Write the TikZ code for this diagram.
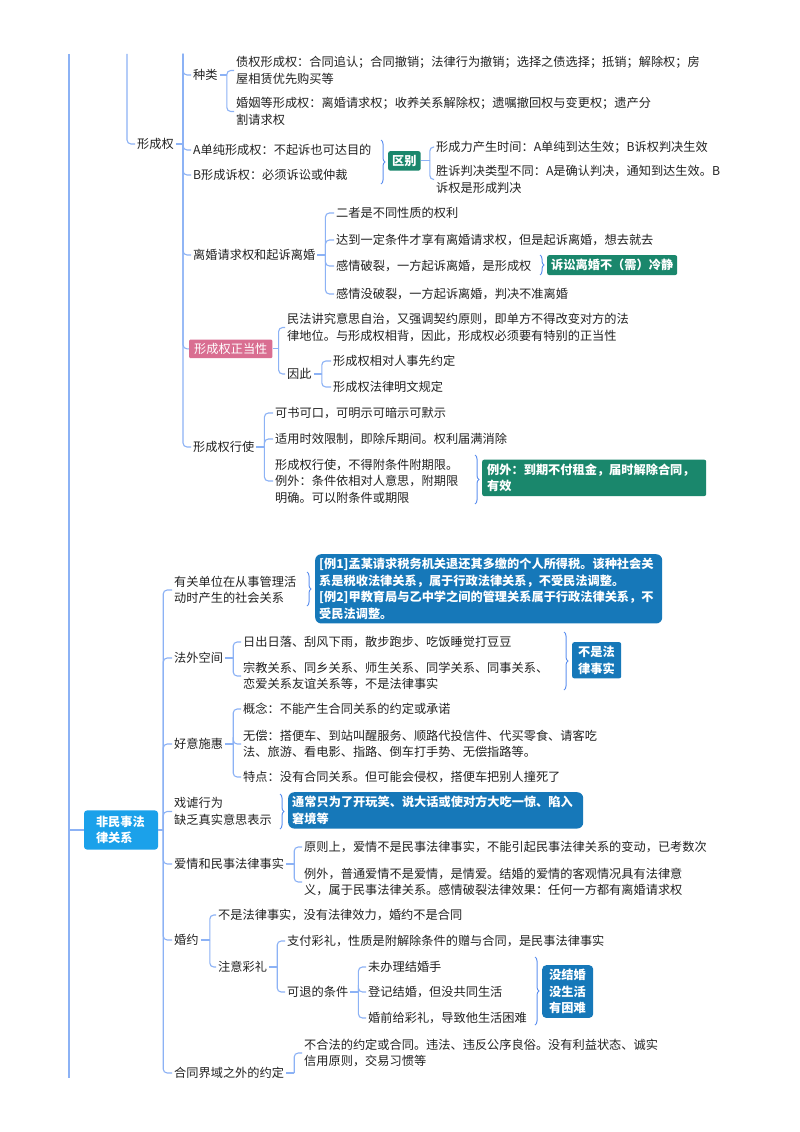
\documentclass[tikz,border=0pt]{standalone}
\usepackage{fontspec}
\setmainfont{Noto Sans CJK SC}
\usetikzlibrary{decorations.pathreplacing}
\definecolor{linkc}{RGB}{140,178,245}
\definecolor{bracec}{RGB}{95,145,240}
\definecolor{tealc}{RGB}{26,135,108}
\definecolor{deepblue}{RGB}{22,120,185}
\definecolor{skyblue}{RGB}{27,161,234}
\definecolor{rosec}{RGB}{217,110,145}
\definecolor{inkc}{RGB}{34,34,34}
\begin{document}
\begin{tikzpicture}[x=1pt,y=-1pt,
  every node/.style={font=\fontsize{12.2}{16.5}\selectfont,text=inkc},
  txt/.style={anchor=west,inner sep=2pt,align=left},
  link/.style={draw=linkc,line width=1.1pt,rounded corners=4pt},
  brc/.style={draw=bracec,line width=1pt,decorate,decoration={brace,amplitude=4pt}},
  tagbox/.style={anchor=north west,text=white,font=\fontsize{12.2}{16.5}\selectfont\bfseries,
    align=left,inner ysep=4pt,inner xsep=4pt,rounded corners=2pt},
  notebox/.style={tagbox,fill=deepblue,rounded corners=6pt}]
  \useasboundingbox (0,0) rectangle (800,1132);
  \fill[white] (0,0) rectangle (800,1132);

  % ---- upper part: 形成权 ----
  \coordinate (t1) at (69,54);
  \coordinate (t2) at (127,54);
  \coordinate (t3) at (183,54);
  \coordinate (b1) at (69,1078);
  \node[txt] (xcq) at (135,144) {形成权};
  \node[txt] (zl) at (191,75) {种类};
  \node[txt] (zq) at (234,70.5) {债权形成权：合同追认；合同撤销；法律行为撤销；选择之债选择；抵销；解除权；房\\屋相赁优先购买等};
  \node[txt] (hy) at (234,111.5) {婚姻等形成权：离婚请求权；收养关系解除权；遗嘱撤回权与变更权；遗产分\\割请求权};
  \node[txt] (adc) at (191,150) {A单纯形成权：不起诉也可达目的};
  \node[txt] (bxs) at (191,175) {B形成诉权：必须诉讼或仲裁};
  \node[tagbox,fill=tealc] (qb) at (388,151) {区别};
  \node[txt] (sj) at (434,147) {形成力产生时间：A单纯到达生效；B诉权判决生效};
  \node[txt] (sl) at (434,179.5) {胜诉判决类型不同：A是确认判决，通知到达生效。B\\诉权是形成判决};

  \node[txt] (lh) at (191,255) {离婚请求权和起诉离婚};
  \node[txt] (ez) at (334,213) {二者是不同性质的权利};
  \node[txt] (dd) at (334,240) {达到一定条件才享有离婚请求权，但是起诉离婚，想去就去};
  \node[txt] (gq) at (334,266) {感情破裂，一方起诉离婚，是形成权};
  \node[txt] (gm) at (334,294) {感情没破裂，一方起诉离婚，判决不准离婚};
  \node[tagbox,fill=tealc] (lj) at (547,255) {诉讼离婚不（需）冷静};

  \node[tagbox,fill=rosec,font=\fontsize{12.2}{16.5}\selectfont,inner ysep=3.5pt,inner xsep=5pt,rounded corners=1pt] (zd) at (189,339.5) {形成权正当性};
  \node[txt] (mf) at (285,327.5) {民法讲究意思自治，又强调契约原则，即单方不得改变对方的法\\律地位。与形成权相背，因此，形成权必须要有特别的正当性};
  \node[txt] (yc) at (285,374) {因此};
  \node[txt] (yd) at (331,361) {形成权相对人事先约定};
  \node[txt] (fl) at (331,387) {形成权法律明文规定};

  \node[txt] (xs) at (191,447) {形成权行使};
  \node[txt] (ks) at (273,413) {可书可口，可明示可暗示可默示};
  \node[txt] (sy) at (273,439) {适用时效限制，即除斥期间。权利届满消除};
  \node[txt] (bd) at (273,481) {形成权行使，不得附条件附期限。\\例外：条件依相对人意思，附期限\\明确。可以附条件或期限};
  \node[tagbox,fill=tealc,text width=214pt,inner xsep=5pt] (lw) at (482,459.5) {例外：到期不付租金，届时解除合同，\\有效};

  \draw[link] (t1) -- (b1);
  \draw[link] (t2) |- (xcq.west);
  \draw[link] (xcq.east) -- (xcq.east -| t3);
  \foreach \c in {zl,adc,bxs,lh,zd,xs} \draw[link] (t3) |- (\c.west);
  \draw[link] (zl.east) -- ++(7,0) coordinate (zlj);
  \foreach \c in {zq,hy} \draw[link] (zlj) |- (\c.west);
  \draw[link] (qb.east) -- ++(9,0) coordinate (qbj);
  \foreach \c in {sj,sl} \draw[link] (qbj) |- (\c.west);
  \draw[link] (lh.east) -- ++(8,0) coordinate (lhj);
  \foreach \c in {ez,dd,gq,gm} \draw[link] (lhj) |- (\c.west);
  \draw[link] (zd.east) -- ++(6,0) coordinate (zdj);
  \foreach \c in {mf,yc} \draw[link] (zdj) |- (\c.west);
  \draw[link] (yc.east) -- ++(8,0) coordinate (ycj);
  \foreach \c in {yd,fl} \draw[link] (ycj) |- (\c.west);
  \draw[link] (xs.east) -- ++(8,0) coordinate (xsj);
  \foreach \c in {ks,sy,bd} \draw[link] (xsj) |- (\c.west);
  % braces
  \draw[brc] (381,140) -- (381,184);
  \draw[brc] (540,255) -- (540,275);
  \draw[brc] (475,455) -- (475,504);

  % ---- lower part: 非民事法律关系 ----
  \node[tagbox,fill=skyblue,anchor=center,text width=50pt,inner xsep=12pt,inner ysep=5.5pt,rounded corners=3pt] (fm) at (121,830) {非民事法\\律关系};
  \draw[link] (fm.west -| t1) -- (fm.west);

  \node[txt] (dw) at (172,590) {有关单位在从事管理活\\动时产生的社会关系};
  \node[notebox,text width=339pt] (ex) at (315,554) {[例1]孟某请求税务机关退还其多缴的个人所得税。该种社会关\\系是税收法律关系，属于行政法律关系，不受民法调整。\\{}[例2]甲教育局与乙中学之间的管理关系属于行政法律关系，不\\受民法调整。};

  \node[txt] (fw) at (172,658) {法外空间};
  \node[txt] (rc) at (241,642) {日出日落、刮风下雨，散步跑步、吃饭睡觉打豆豆};
  \node[txt] (zj) at (241,676) {宗教关系、同乡关系、师生关系、同学关系、同事关系、\\恋爱关系友谊关系等，不是法律事实};
  \node[tagbox,fill=deepblue,text width=37pt,inner xsep=6pt] (bs) at (572,642) {不是法\\律事实};

  \node[txt] (hs) at (172,744) {好意施惠};
  \node[txt] (gn) at (241,709) {概念：不能产生合同关系的约定或承诺};
  \node[txt] (wc) at (241,744) {无偿：搭便车、到站叫醒服务、顺路代投信件、代买零食、请客吃\\法、旅游、看电影、指路、倒车打手势、无偿指路等。};
  \node[txt] (td) at (241,777) {特点：没有合同关系。但可能会侵权，搭便车把别人撞死了};

  \node[txt] (xx) at (172,811.5) {戏谑行为\\缺乏真实意思表示};
  \node[notebox,text width=287pt] (tc) at (288,792) {通常只为了开玩笑、说大话或使对方大吃一惊、陷入\\窘境等};

  \node[txt] (aq) at (172,864) {爱情和民事法律事实};
  \node[txt] (yz) at (302,847) {原则上，爱情不是民事法律事实，不能引起民事法律关系的变动，已考数次};
  \node[txt] (lw2) at (302,882) {例外，普通爱情不是爱情，是情爱。结婚的爱情的客观情况具有法律意\\义，属于民事法律关系。感情破裂法律效果：任何一方都有离婚请求权};

  \node[txt] (hyue) at (172,940) {婚约};
  \node[txt] (bf) at (216,915) {不是法律事实，没有法律效力，婚约不是合同};
  \node[txt] (zy) at (216,967) {注意彩礼};
  \node[txt] (zf) at (285,941) {支付彩礼，性质是附解除条件的赠与合同，是民事法律事实};
  \node[txt] (kt) at (285,992) {可退的条件};
  \node[txt] (wb) at (366,967) {未办理结婚手};
  \node[txt] (dj) at (366,992) {登记结婚，但没共同生活};
  \node[txt] (hq) at (366,1018) {婚前给彩礼，导致他生活困难};
  \node[tagbox,fill=deepblue,text width=37pt,inner xsep=7pt,rounded corners=4pt] (mj) at (542,965) {没结婚\\没生活\\有困难};

  \node[txt] (ht) at (172,1073) {合同界域之外的约定};
  \node[txt] (bh) at (302,1053) {不合法的约定或合同。违法、违反公序良俗。没有利益状态、诚实\\信用原则，交易习惯等};

  \draw[link] (fm.east) -- ++(5,0) coordinate (fmj);
  \foreach \c in {dw,fw,hs,xx,aq,hyue,ht} \draw[link] (fmj) |- (\c.west);
  \draw[link] (fw.east) -- ++(8,0) coordinate (fwj);
  \foreach \c in {rc,zj} \draw[link] (fwj) |- (\c.west);
  \draw[link] (hs.east) -- ++(8,0) coordinate (hsj);
  \foreach \c in {gn,wc,td} \draw[link] (hsj) |- (\c.west);
  \draw[link] (aq.east) -- ++(8,0) coordinate (aqj);
  \foreach \c in {yz,lw2} \draw[link] (aqj) |- (\c.west);
  \draw[link] (hyue.east) -- ++(9,0) coordinate (hyj);
  \foreach \c in {bf,zy} \draw[link] (hyj) |- (\c.west);
  \draw[link] (zy.east) -- ++(8,0) coordinate (zyj);
  \foreach \c in {zf,kt} \draw[link] (zyj) |- (\c.west);
  \draw[link] (kt.east) -- ++(8,0) coordinate (ktj);
  \foreach \c in {wb,dj,hq} \draw[link] (ktj) |- (\c.west);
  \draw[link] (ht.east) -- ++(8,0) coordinate (htj);
  \draw[link] (htj) |- (bh.west);
  % braces
  \draw[brc] (307,572) -- (307,606);
  \draw[brc] (564,632) -- (564,690);
  \draw[brc] (280,794) -- (280,829);
  \draw[brc] (535,957) -- (535,1025);
\end{tikzpicture}
\end{document}
